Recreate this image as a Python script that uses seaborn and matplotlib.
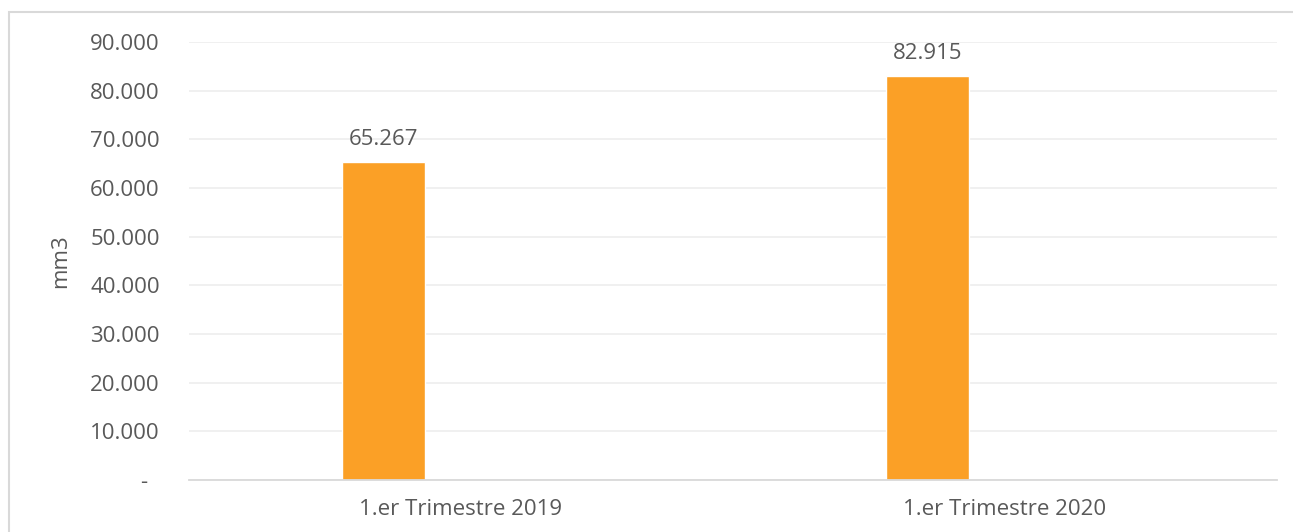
import pandas as pd
import matplotlib
matplotlib.use("Agg")
import matplotlib.pyplot as plt
import matplotlib.ticker as mticker
from matplotlib.patches import Rectangle
import seaborn as sns

# data
periodos = ["1.er Trimestre 2019", "1.er Trimestre 2020"]
volumen = [65267, 82915]
serie = ["mm3", "mm3"]
y_ticks = [0, 10000, 20000, 30000, 40000, 50000, 60000, 70000, 80000, 90000]

BAR_COLOR = "#FBA026"
TEXT_COLOR = "#595959"
FS = 16

sns.set_theme(style="white")
plt.rcParams["font.family"] = ["Open Sans", "DejaVu Sans"]

df = pd.DataFrame({"periodo": periodos, "volumen": volumen, "serie": serie})

fig = plt.figure(figsize=(12.93, 5.32), dpi=100)
ax = fig.add_axes([189 / 1293, 52 / 532, (1277 - 189) / 1293, (480 - 42) / 532])

# second (empty) hue level keeps the bars shifted left like the original
sns.barplot(data=df, x="periodo", y="volumen", hue="serie",
            hue_order=["mm3", "vacio"], palette=[BAR_COLOR, BAR_COLOR],
            width=0.57, gap=0.4646, dodge=True, legend=False,
            saturation=1, ax=ax, errorbar=None)

for cont in ax.containers:
    labels = [f"{v:,.0f}".replace(",", ".") for v in cont.datavalues]
    ax.bar_label(cont, labels=labels, padding=9, fontsize=FS, color=TEXT_COLOR)


def fmt_miles(v, pos):
    # accounting style: zero shown as a dash
    if v == 0:
        return "-  "
    return f"{v:,.0f}".replace(",", ".")


ax.set_ylim(0, 90000)
ax.set_xlim(-0.5, 1.5)
ax.set_yticks(y_ticks)
ax.yaxis.set_major_formatter(mticker.FuncFormatter(fmt_miles))
ax.grid(axis="y", color="#EFEFEF", linewidth=1.3)
ax.set_axisbelow(True)
for s in ["top", "right", "left"]:
    ax.spines[s].set_visible(False)
ax.spines["bottom"].set_color("#D9D9D9")
ax.spines["bottom"].set_linewidth(1.3)

ax.tick_params(axis="y", length=0, pad=21, labelsize=FS, labelcolor=TEXT_COLOR)
ax.tick_params(axis="x", length=0, pad=14, labelsize=FS, labelcolor=TEXT_COLOR)
ax.set_xlabel("")
ax.set_ylabel("mm3", fontsize=FS, color=TEXT_COLOR)
ax.yaxis.set_label_coords(-0.108, 0.5)

# light frame around the chart area like the exported image
fig.patches.append(Rectangle((9 / 1293, -0.05), 1.2, 0.05 + (532 - 12) / 532,
                             transform=fig.transFigure, fill=False,
                             edgecolor="#D9D9D9", linewidth=1.5))

fig.savefig("out.png", dpi=100, facecolor="white")
